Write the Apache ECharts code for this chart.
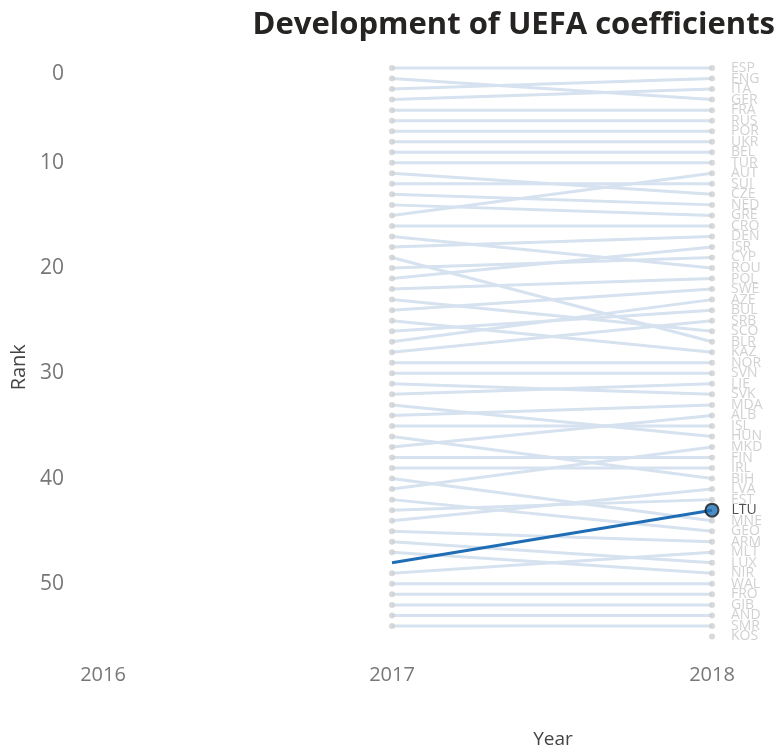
<!DOCTYPE html>
<html><head><meta charset="utf-8">
<script src="https://cdn.jsdelivr.net/npm/echarts@6.0.0/dist/echarts.min.js"></script>
<style>html,body{margin:0;padding:0;background:#fff}#c{width:784px;height:754px}</style>
</head><body><div id="c"></div>
<script>
// Countries in 2018 ranking order
const countries = ['ESP','ENG','ITA','GER','FRA','RUS','POR','UKR','BEL','TUR','AUT','SUI','CZE','NED','GRE','CRO','DEN','ISR','CYP','ROU','POL','SWE','AZE','BUL','SRB','SCO','BLR','KAZ','NOR','SVN','LIE','SVK','MDA','ALB','ISL','HUN','MKD','FIN','IRL','BIH','LVA','EST','LTU','MNE','GEO','ARM','MLT','LUX','NIR','WAL','FRO','GIB','AND','SMR','KOS'];
const rank2018 = [1,2,3,4,5,6,7,8,9,10,11,12,13,14,15,16,17,18,19,20,21,22,23,24,25,26,27,28,29,30,31,32,33,34,35,36,37,38,39,40,41,42,43,44,45,46,47,48,49,50,51,52,53,54,55];
const rank2017 = [1,3,4,2,5,6,7,8,9,10,15,12,11,13,14,16,18,21,20,17,22,24,27,26,28,23,19,25,29,30,32,31,34,37,35,33,41,38,39,36,44,43,48,40,42,45,49,46,47,50,51,52,53,54,null];
const years = [2016, 2017, 2018];
const yTicks = [0, 10, 20, 30, 40, 50];
const highlight = 'LTU';

const FONT = "'Open Sans', 'Noto Sans', sans-serif";
const series = [];
countries.forEach((c, i) => {
  if (c === highlight || rank2017[i] == null) return;
  series.push({
    type: 'line', name: c, silent: true, symbol: 'none', z: 1,
    lineStyle: { color: '#d6e2ef', width: 3 },
    data: [[years[1], rank2017[i]], [years[2], rank2018[i]]]
  });
});
series.push({
  type: 'scatter', silent: true, symbolSize: 6, z: 2,
  itemStyle: { color: '#cfcfcf' },
  data: countries.map((c, i) => c === highlight || rank2017[i] == null ? null : [years[1], rank2017[i]]).filter(d => d)
});
series.push({
  type: 'scatter', silent: true, symbolSize: 6, z: 2,
  itemStyle: { color: '#cfcfcf' },
  label: { show: true, position: 'right', distance: 16, color: '#c6c6c6', fontSize: 14, fontFamily: FONT,
           formatter: p => p.data[2] },
  data: countries.map((c, i) => c === highlight ? null : [years[2], rank2018[i], c]).filter(d => d)
});
const hi = countries.indexOf(highlight);
series.push({
  type: 'line', silent: true, symbol: 'none', z: 5,
  lineStyle: { color: '#1f6db4', width: 3 },
  data: [[years[1], rank2017[hi]], [years[2], rank2018[hi]]]
});
series.push({
  type: 'scatter', silent: true, symbolSize: 13, z: 6,
  itemStyle: { color: '#1f6fb5', borderColor: '#1b1b1b', borderWidth: 2 },
  label: { show: true, position: 'right', distance: 12, color: '#222', fontSize: 14, fontFamily: FONT,
           formatter: p => p.data[2] },
  data: [[years[2], rank2018[hi], highlight]]
});

const chart = echarts.init(document.getElementById('c'), null, { renderer: 'canvas' });
chart.setOption({
  animation: false,
  backgroundColor: '#fff',
  title: {
    text: 'Development of UEFA coefficients', right: 4, top: 5,
    textStyle: { fontFamily: FONT, fontWeight: 'bold', fontSize: 31, color: '#252423' }
  },
  grid: { left: 72, right: 72, top: 57.5, bottom: 105.7, containLabel: false },
  xAxis: {
    type: 'value', min: years[0], max: years[2], interval: 1,
    axisLine: { show: false }, axisTick: { show: false }, splitLine: { show: false },
    axisLabel: {
      margin: 18, color: '#777', fontSize: 20, fontFamily: FONT,
      formatter: v => v === years[0] ? '{a|' + v + '}' : String(v),
      rich: { a: { padding: [0, 0, 0, 62], color: '#777', fontSize: 20, fontFamily: FONT } }
    },
    name: 'Year', nameLocation: 'middle', nameGap: 83,
    nameTextStyle: { color: '#444', fontSize: 19, fontFamily: FONT, padding: [0, 0, 0, 322] }
  },
  yAxis: {
    type: 'value', inverse: true, min: 0, max: 56, interval: 10,
    axisLine: { show: false }, axisTick: { show: false }, splitLine: { show: false },
    axisLabel: {
      margin: 8, color: '#777', fontSize: 21, fontFamily: FONT,
      formatter: v => yTicks.indexOf(v) < 0 ? '' : (v === 0 ? '{z|0}' : String(v)),
      rich: { z: { padding: [34, 0, 0, 0], color: '#777', fontSize: 21, fontFamily: FONT } }
    },
    name: 'Rank', nameLocation: 'middle', nameGap: 42, nameRotate: 90,
    nameTextStyle: { color: '#444', fontSize: 20, fontFamily: FONT, padding: [0, 30, 0, 0] }
  },
  series: series
});
</script>
</body></html>
